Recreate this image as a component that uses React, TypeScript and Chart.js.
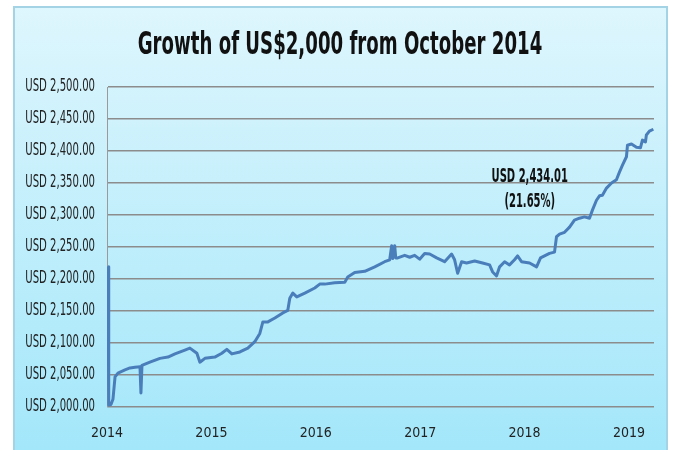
import React, { useEffect, useRef } from "react";
import { Chart, registerables } from "chart.js";

Chart.register(...registerables);

const TITLE = "Growth of US$2,000 from October 2014";

const dates: number[] = [
  2014.010, 2014.014, 2014.019, 2014.038, 2014.057, 2014.077, 2014.105, 2014.172, 2014.220, 2014.268,
  2014.316, 2014.325, 2014.335, 2014.411, 2014.507, 2014.584, 2014.651, 2014.746, 2014.794, 2014.861,
  2014.890, 2014.938, 2015.033, 2015.100, 2015.148, 2015.196, 2015.273, 2015.349, 2015.416, 2015.464,
  2015.493, 2015.541, 2015.608, 2015.684, 2015.732, 2015.751, 2015.780, 2015.818, 2015.895, 2015.990,
  2016.038, 2016.086, 2016.182, 2016.278, 2016.306, 2016.373, 2016.469, 2016.565, 2016.660, 2016.708,
  2016.727, 2016.737, 2016.756, 2016.766, 2016.785, 2016.852, 2016.900, 2016.947, 2016.995, 2017.043,
  2017.091, 2017.158, 2017.234, 2017.301, 2017.330, 2017.359, 2017.397, 2017.445, 2017.522, 2017.598,
  2017.665, 2017.694, 2017.732, 2017.761, 2017.809, 2017.856, 2017.904, 2017.933, 2017.971, 2018.048,
  2018.115, 2018.153, 2018.191, 2018.239, 2018.287, 2018.306, 2018.335, 2018.383, 2018.431, 2018.478,
  2018.526, 2018.574, 2018.622, 2018.651, 2018.689, 2018.718, 2018.746, 2018.785, 2018.833, 2018.880,
  2018.909, 2018.938, 2018.976, 2018.986, 2019.024, 2019.072, 2019.110, 2019.129, 2019.158, 2019.167,
  2019.196, 2019.234,
];

const values: number[] = [
  2219, 2003, 2003, 2004, 2012, 2047, 2053, 2058, 2061, 2062,
  2063, 2022, 2065, 2070, 2076, 2078, 2083, 2089, 2092, 2084,
  2070, 2076, 2078, 2084, 2090, 2083, 2086, 2092, 2102, 2115,
  2133, 2133, 2139, 2147, 2151, 2170, 2178, 2172, 2178, 2186,
  2192, 2192, 2194, 2195, 2203, 2210, 2212, 2219, 2227, 2230,
  2252, 2232, 2252, 2233, 2233, 2237, 2234, 2237, 2231, 2240,
  2239, 2233, 2227, 2239, 2230, 2209, 2227, 2225, 2228, 2225,
  2222, 2211, 2205, 2219, 2227, 2222, 2230, 2236, 2227, 2225,
  2219, 2233, 2236, 2240, 2242, 2266, 2270, 2273, 2281, 2292,
  2295, 2297, 2295, 2308, 2323, 2330, 2331, 2342, 2350, 2355,
  2367, 2378, 2391, 2409, 2411, 2406, 2405, 2417, 2414, 2425,
  2431, 2434.01,
];

const yearTicks: number[] = [2014, 2015, 2016, 2017, 2018, 2019];
const X_MIN = 2014;
const X_MAX = 2019.24;
const Y_MIN = 2000;
const Y_MAX = 2500;
const Y_STEP = 50;

const annotationLines: string[] = ["USD 2,434.01", "(21.65%)"];
const annotationX = 2018.05;
const annotationY = 2359;

const FONT = "'DejaVu Sans Condensed', 'DejaVu Sans', sans-serif";
const Y_SQUEEZE = 0.66;

function fmtUSD(v: number): string {
  const s = Number(v).toFixed(2);
  const [i, d] = s.split(".");
  return "USD " + i.replace(/\B(?=(\d{3})+(?!\d))/g, ",") + "." + d;
}

function squeezedText(ctx: any, text: string, x: number, y: number, sx: number) {
  ctx.save();
  ctx.translate(x, y);
  ctx.scale(sx, 1);
  ctx.fillText(text, 0, 0);
  ctx.restore();
}

const overlay = {
  id: "overlay",
  beforeDraw(chart: any) {
    const sc = chart.scales.y;
    if (!sc || sc._squeezed) return;
    const orig = sc.drawLabels.bind(sc);
    sc.drawLabels = (area: any) => {
      const ctx = chart.ctx;
      const xr = sc.right - sc.options.ticks.padding;
      const savedLeft = sc.left;
      sc.left = -1000;
      ctx.save();
      ctx.translate(xr, 0);
      ctx.scale(Y_SQUEEZE, 1);
      ctx.translate(-xr, 0);
      orig(area);
      ctx.restore();
      sc.left = savedLeft;
    };
    sc._squeezed = true;
  },
  afterDraw(chart: any) {
    const ctx = chart.ctx;
    ctx.save();
    ctx.fillStyle = "#111";
    ctx.textAlign = "center";
    ctx.textBaseline = "middle";
    ctx.font = `bold 32px ${FONT}`;
    squeezedText(ctx, TITLE, 340, 46, 0.63);
    const xs = chart.scales.x.getPixelForValue(annotationX);
    const ys = chart.scales.y.getPixelForValue(annotationY);
    ctx.font = `bold 19px ${FONT}`;
    annotationLines.forEach((t, i) => squeezedText(ctx, t, xs, ys + i * 25, 0.585));
    ctx.restore();
  },
};

export default function App() {
  const ref = useRef<HTMLCanvasElement | null>(null);

  useEffect(() => {
    if (!ref.current) return;
    const chart = new Chart(ref.current, {
      type: "line",
      data: {
        datasets: [
          {
            data: dates.map((d, i) => ({ x: d, y: values[i] })),
            borderColor: "#4a7ebb",
            borderWidth: 3,
            pointRadius: 0,
            fill: false,
            tension: 0,
            borderJoinStyle: "round",
          },
        ],
      },
      options: {
        animation: false,
        responsive: false,
        maintainAspectRatio: false,
        devicePixelRatio: 1,
        layout: { padding: { top: 87, right: 20, left: 0, bottom: 0 } },
        plugins: { legend: { display: false }, tooltip: { enabled: false }, title: { display: false } },
        scales: {
          x: {
            type: "linear",
            min: X_MIN,
            max: X_MAX,
            grid: { display: false, drawTicks: false },
            border: { display: false },
            afterBuildTicks: (axis: any) => {
              axis.ticks = yearTicks.map((v) => ({ value: v }));
            },
            afterFit: (axis: any) => {
              axis.height = 43;
            },
            ticks: {
              autoSkip: false,
              maxRotation: 0,
              padding: 18,
              color: "#222",
              font: { family: FONT, size: 14 },
              callback: (v: any) => String(v),
            },
          },
          y: {
            min: Y_MIN,
            max: Y_MAX,
            grid: { color: "#8c8c8c", lineWidth: 1.5, drawTicks: false },
            border: { display: true, color: "#9a9a9a", width: 1 },
            afterFit: (axis: any) => {
              axis.width = 107;
            },
            ticks: {
              stepSize: Y_STEP,
              padding: 12,
              color: "#222",
              font: { family: FONT, size: 17 },
              callback: (v: any) => fmtUSD(v),
            },
          },
        },
      },
      plugins: [overlay],
    } as any);
    return () => chart.destroy();
  }, []);

  return (
    <div style={{ position: "fixed", left: 0, top: 0, width: 674, height: 450, background: "#fff", overflow: "hidden" }}>
      <div
        style={{
          position: "absolute",
          left: 13,
          top: 6,
          width: 655,
          height: 470,
          boxSizing: "border-box",
          border: "2px solid #a3d3e4",
          background: "linear-gradient(to bottom, #def6fd 0%, #a0e6fa 100%)",
        }}
      />
      <canvas ref={ref} width={674} height={450} style={{ position: "absolute", left: 0, top: 0, width: 674, height: 450 }} />
    </div>
  );
}
